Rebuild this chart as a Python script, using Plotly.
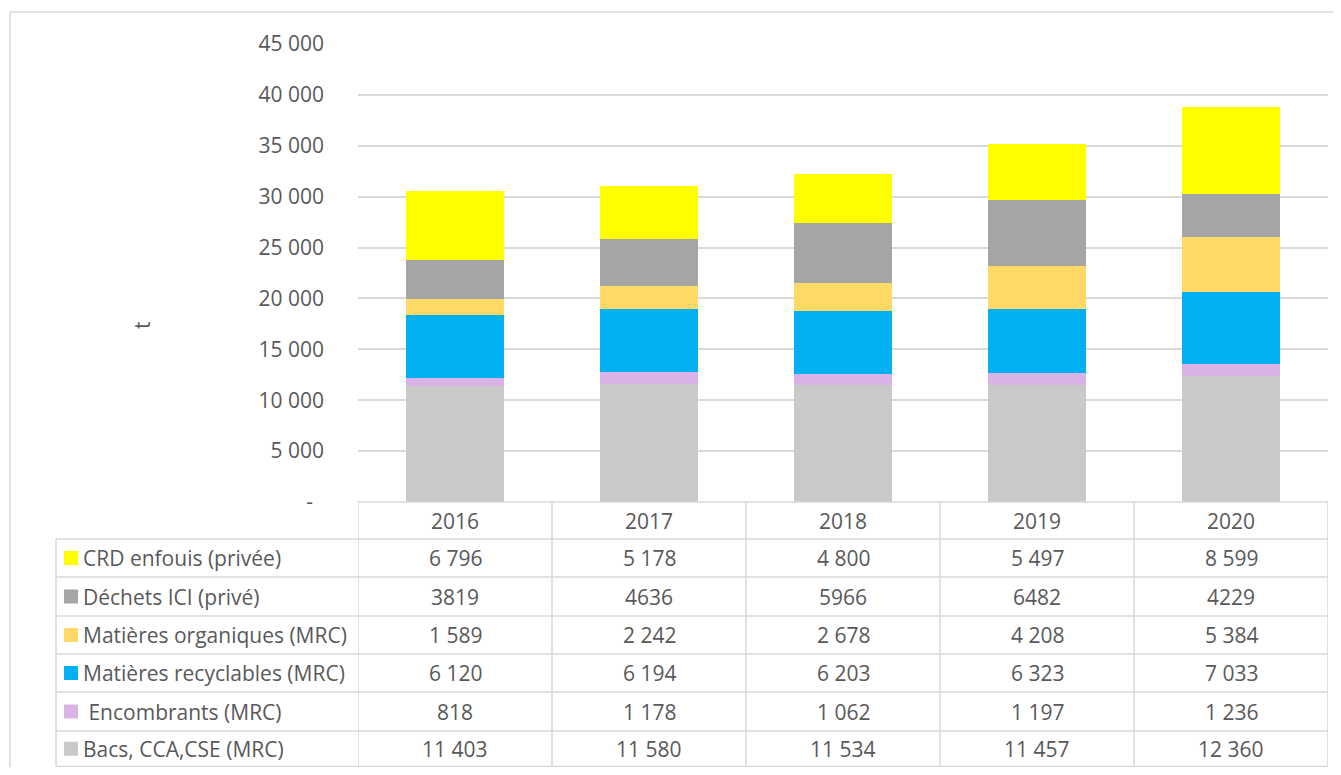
import plotly.graph_objects as go

# ---- data ----
years = ["2016", "2017", "2018", "2019", "2020"]
series_names = [
    "Bacs, CCA,CSE (MRC)",
    " Encombrants (MRC)",
    "Matières recyclables (MRC)",
    "Matières organiques (MRC)",
    "Déchets ICI (privé)",
    "CRD enfouis (privée)",
]
bacs = [11403, 11580, 11534, 11457, 12360]
encombrants = [818, 1178, 1062, 1197, 1236]
recyclables = [6120, 6194, 6203, 6323, 7033]
organiques = [1589, 2242, 2678, 4208, 5384]
ici = [3819, 4636, 5966, 6482, 4229]
crd = [6796, 5178, 4800, 5497, 8599]
series_values = [bacs, encombrants, recyclables, organiques, ici, crd]
series_colors = ["#C9C9C9", "#D9B3E5", "#00B0F0", "#FFD966", "#A5A5A5", "#FFFF00"]
grouped_format = [True, True, True, True, False, True]  # ICI row shown without separator

tick_vals = [0, 5000, 10000, 15000, 20000, 25000, 30000, 35000, 40000, 45000]
tick_text = ["-\u00a0\u00a0", "5 000", "10 000", "15 000", "20 000", "25 000",
             "30 000", "35 000", "40 000", "45 000"]

# ---- geometry (reference pixels; page body has an 8px margin) ----
OX, OY = 8, 8
W, H = 1325, 759
def xp(px):
    return (px - OX) / W
def yp(py):
    return 1 - (py - OY) / H

PLOT_L, PLOT_R = 358, 1328
PLOT_T, PLOT_B = 44, 502
TABLE_L = 56
row_edges = [539, 577, 616, 654, 692, 731, 766.5]  # body rows top->bottom
TXT = "#595959"
LINE = "#D9D9D9"
FONT = "Open Sans"
FS = 21

fig = go.Figure()
for name, vals, col in zip(series_names, series_values, series_colors):
    fig.add_trace(go.Bar(x=list(range(len(years))), y=vals, name=name,
                         marker=dict(color=col, line=dict(width=0)), width=0.51))

shapes = []
annotations = []

# outer chart border
shapes.append(dict(type="rect", xref="paper", yref="paper", x0=xp(10), x1=xp(1346),
                   y0=yp(781), y1=yp(12), line=dict(color=LINE, width=1.5)))

# table horizontal lines
shapes.append(dict(type="line", xref="paper", yref="paper", x0=xp(PLOT_L), x1=xp(PLOT_R),
                   y0=yp(PLOT_B), y1=yp(PLOT_B), line=dict(color=LINE, width=1.5)))
for ry in row_edges:
    shapes.append(dict(type="line", xref="paper", yref="paper", x0=xp(TABLE_L), x1=xp(PLOT_R),
                       y0=yp(ry), y1=yp(ry), line=dict(color=LINE, width=1.5)))
# table vertical lines
shapes.append(dict(type="line", xref="paper", yref="paper", x0=xp(TABLE_L), x1=xp(TABLE_L),
                   y0=yp(row_edges[0]), y1=yp(row_edges[-1]), line=dict(color=LINE, width=1.5)))
for i in range(len(years) + 1):
    shapes.append(dict(type="line", xref="x", yref="paper", x0=i - 0.5, x1=i - 0.5,
                       y0=yp(PLOT_B), y1=yp(row_edges[-1]), line=dict(color=LINE, width=1.5)))

# header (years)
for i, yr in enumerate(years):
    annotations.append(dict(x=i, y=yp((PLOT_B + row_edges[0]) / 2), xref="x", yref="paper",
                            text=yr, showarrow=False, xanchor="center", yanchor="middle",
                            font=dict(family=FONT, size=FS, color=TXT)))

def fmt(v, grouped):
    if not grouped:
        return str(v)
    return f"{v:,}".replace(",", " ")

# body rows: top row is last series
order = list(range(len(series_names)))[::-1]
for r, si in enumerate(order):
    top, bot = row_edges[r], row_edges[r + 1]
    cy = (top + bot) / 2
    shapes.append(dict(type="rect", xref="paper", yref="paper", x0=xp(64), x1=xp(78),
                       y0=yp(cy + 7), y1=yp(cy - 7), fillcolor=series_colors[si],
                       line=dict(width=0)))
    annotations.append(dict(x=xp(81), y=yp(cy), xref="paper", yref="paper",
                            text=series_names[si].replace(" ", "\u00a0"), showarrow=False,
                            xanchor="left", yanchor="middle",
                            font=dict(family=FONT, size=FS, color=TXT)))
    for i, v in enumerate(series_values[si]):
        annotations.append(dict(x=i, y=yp(cy), xref="x", yref="paper",
                                text=fmt(v, grouped_format[si]), showarrow=False,
                                xanchor="center", yanchor="middle",
                                font=dict(family=FONT, size=FS, color=TXT)))

# y-axis title
annotations.append(dict(x=xp(142), y=yp(325), xref="paper", yref="paper", text="t",
                        showarrow=False, textangle=-90, xanchor="center", yanchor="middle",
                        font=dict(family=FONT, size=FS, color=TXT)))

fig.update_layout(
    width=W, height=H,
    autosize=False,
    margin=dict(l=0, r=0, t=0, b=0, pad=0, autoexpand=False),
    paper_bgcolor="white", plot_bgcolor="white",
    barmode="stack", showlegend=False,
    xaxis=dict(domain=[xp(PLOT_L), xp(PLOT_R)], range=[-0.5, len(years) - 0.5],
               showticklabels=False, showgrid=False, zeroline=False, showline=False,
               automargin=False, fixedrange=True),
    yaxis=dict(domain=[yp(PLOT_B), yp(PLOT_T)], range=[0, 45000],
               tickvals=tick_vals, ticktext=tick_text, showgrid=True,
               gridcolor=LINE, gridwidth=1.5, zeroline=False, showline=False,
               ticks="", ticklabelstandoff=33, automargin=False,
               tickfont=dict(family=FONT, size=FS, color=TXT), fixedrange=True),
    shapes=shapes, annotations=annotations,
)

fig.write_html("out.html")
